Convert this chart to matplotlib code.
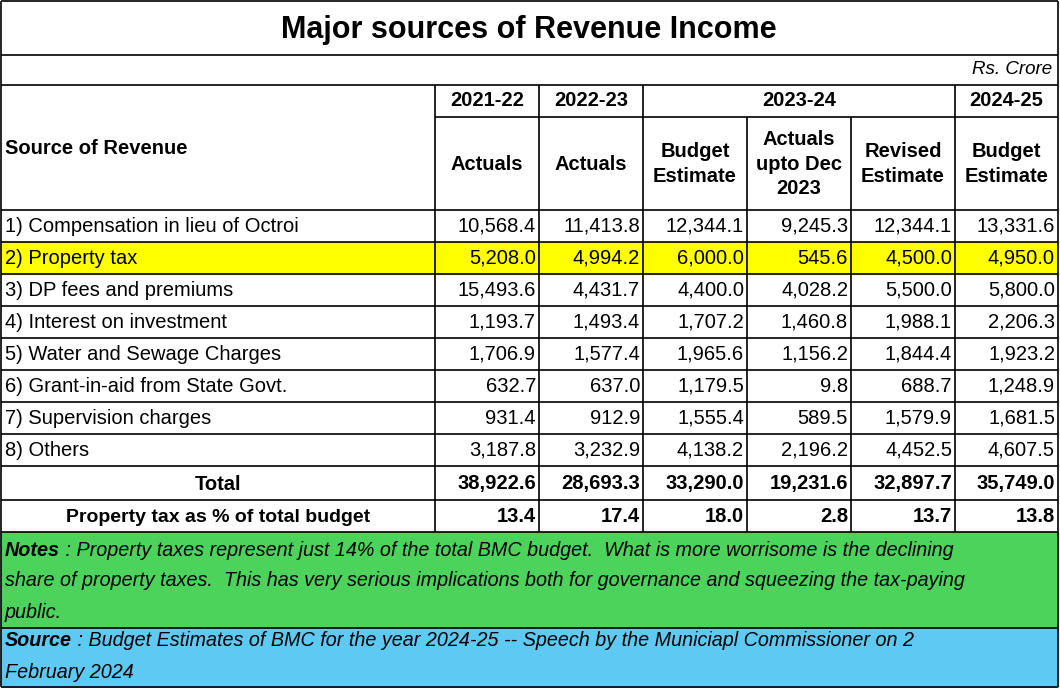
import matplotlib
matplotlib.use("Agg")
import matplotlib.pyplot as plt
from matplotlib.patches import Rectangle

title = "Major sources of Revenue Income"
unit = "Rs. Crore"
years = ["2021-22", "2022-23", "2023-24", "2024-25"]
sub_headers = ["Actuals", "Actuals", "Budget\nEstimate", "Actuals\nupto Dec\n2023", "Revised\nEstimate", "Budget\nEstimate"]
sources = ["1) Compensation in lieu of Octroi", "2) Property tax", "3) DP fees and premiums",
           "4) Interest on investment", "5) Water and Sewage Charges", "6) Grant-in-aid from State Govt.",
           "7) Supervision charges", "8) Others"]
values = [
    [10568.4, 11413.8, 12344.1, 9245.3, 12344.1, 13331.6],
    [5208.0, 4994.2, 6000.0, 545.6, 4500.0, 4950.0],
    [15493.6, 4431.7, 4400.0, 4028.2, 5500.0, 5800.0],
    [1193.7, 1493.4, 1707.2, 1460.8, 1988.1, 2206.3],
    [1706.9, 1577.4, 1965.6, 1156.2, 1844.4, 1923.2],
    [632.7, 637.0, 1179.5, 9.8, 688.7, 1248.9],
    [931.4, 912.9, 1555.4, 589.5, 1579.9, 1681.5],
    [3187.8, 3232.9, 4138.2, 2196.2, 4452.5, 4607.5],
]
totals = [38922.6, 28693.3, 33290.0, 19231.6, 32897.7, 35749.0]
pct = [13.4, 17.4, 18.0, 2.8, 13.7, 13.8]
notes_lines = [" : Property taxes represent just 14% of the total BMC budget.  What is more worrisome is the declining",
               "share of property taxes.  This has very serious implications both for governance and squeezing the tax-paying",
               "public."]
source_lines = [" : Budget Estimates of BMC for the year 2024-25 -- Speech by the Municiapl Commissioner on 2",
                "February 2024"]

FONT = "Liberation Sans"
fs = 14.5
fig = plt.figure(figsize=(10.6, 6.88), dpi=100)
ax = fig.add_axes([0, 0, 1, 1])
ax.set_xlim(0, 1060); ax.set_ylim(688, 0); ax.axis("off")

xs = [1, 435, 539, 643, 747, 851, 955, 1058]
row_top = 210; rh = 32

def line(x0, y0, x1, y1, lw=1.2):
    ax.plot([x0, x1], [y0, y1], color="black", lw=lw, solid_capstyle="butt")

ax.add_patch(Rectangle((1, 242), 1057, 32, color="#FFFF00", zorder=0))
ax.add_patch(Rectangle((1, 532), 1057, 96, color="#4CD35C", zorder=0))
ax.add_patch(Rectangle((1, 628), 1057, 59, color="#5EC9F2", zorder=0))

ax.text(529, 30, title, ha="center", va="center", fontsize=22, fontweight="bold", family=FONT)
ax.text(1052, 70, unit, ha="right", va="center", fontsize=fs-1, style="italic", family=FONT)

ax.text(5, 148, "Source of Revenue", ha="left", va="center", fontsize=fs, fontweight="bold", family=FONT)
for i, c in enumerate([(1, 2), (2, 3), (3, 6), (6, 7)]):
    ax.text((xs[c[0]] + xs[c[1]]) / 2, 101, years[i], ha="center", va="center", fontsize=fs, fontweight="bold", family=FONT)
for j, h in enumerate(sub_headers):
    ax.text((xs[j+1] + xs[j+2]) / 2, 164, h, ha="center", va="center", fontsize=fs, fontweight="bold",
            family=FONT, linespacing=1.35)

for r, (s, vals) in enumerate(zip(sources, values)):
    yc = row_top + rh * r + rh / 2
    ax.text(5, yc, s, ha="left", va="center", fontsize=fs, family=FONT)
    for j, v in enumerate(vals):
        ax.text(xs[j+2] - 3, yc, f"{v:,.1f}", ha="right", va="center", fontsize=fs, family=FONT)
ytot = 484
ax.text(218, ytot, "Total", ha="center", va="center", fontsize=fs, fontweight="bold", family=FONT)
for j, v in enumerate(totals):
    ax.text(xs[j+2] - 3, ytot, f"{v:,.1f}", ha="right", va="center", fontsize=fs, fontweight="bold", family=FONT)
ypct = 517
ax.text(218, ypct, "Property tax as % of total budget", ha="center", va="center", fontsize=fs-0.5, fontweight="bold", family=FONT)
for j, v in enumerate(pct):
    ax.text(xs[j+2] - 3, ypct, f"{v:.1f}", ha="right", va="center", fontsize=fs, fontweight="bold", family=FONT)

nfs = 14.2
renderer = fig.canvas.get_renderer()
def para(label, lines, y0, step=31):
    t = ax.text(5, y0, label, ha="left", va="center", fontsize=nfs, style="italic", fontweight="bold", family=FONT)
    bb = t.get_window_extent(renderer)
    ax.text(5 + bb.width, y0, lines[0], ha="left", va="center", fontsize=nfs, style="italic", family=FONT)
    for k, ln in enumerate(lines[1:], 1):
        ax.text(5, y0 + step * k, ln, ha="left", va="center", fontsize=nfs, style="italic", family=FONT)

para("Notes", notes_lines, 550)
para("Source", source_lines, 641)

for y in [1, 55, 85, 210, 466, 500, 532, 628, 687]:
    line(1, y, 1058, y)
line(435, 117, 1058, 117)
for y in range(242, 466, 32):
    line(1, y, 1058, y)
line(1, 1, 1, 687); line(1058, 1, 1058, 687)
for k, x in enumerate(xs[1:-1]):
    idx = k + 1
    if idx in (4, 5):
        line(x, 117, x, 532)
    else:
        line(x, 85, x, 532)
fig.savefig("out.png", dpi=100)
